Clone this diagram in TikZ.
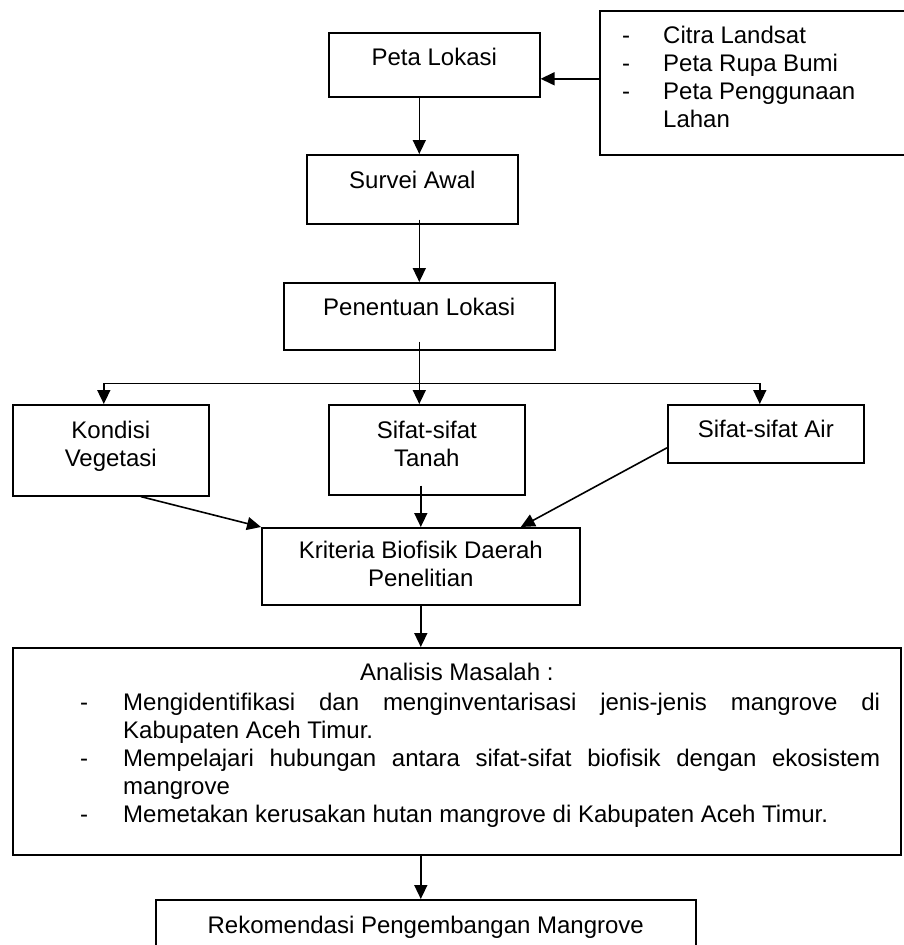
\documentclass[tikz,border=0pt]{standalone}
\usepackage{fontspec}
\setmainfont{Liberation Sans}
\usetikzlibrary{arrows.meta}

\begin{document}
\begin{tikzpicture}[x=1pt, y=-1pt, font=\fontsize{24}{28}\selectfont]
        \useasboundingbox (0,0) rectangle (903,945);

        \begin{scope}[every node/.style = {rectangle, draw, line width=1.6pt, inner sep=0pt, anchor=north west}]
            \node[minimum width=211pt, minimum height=64pt] (peta) at (328,32) {};
            \node[minimum width=320pt, minimum height=144pt] (src) at (599,10) {};

            \node[minimum width=211pt, minimum height=69pt] (survei) at (306,154) {};
            \node[minimum width=271pt, minimum height=67pt] (pen) at (283,282) {};

            \node[minimum width=196pt, minimum height=91pt] (kon) at (12,404) {};
            \node[minimum width=196pt, minimum height=90pt] (tanah) at (328,404) {};
            \node[minimum width=196pt, minimum height=58pt] (air) at (667,404) {};

            \node[minimum width=318pt, minimum height=77pt] (krit) at (261,527) {};
            \node[minimum width=888pt, minimum height=207pt] (ana) at (12,647) {};
            \node[minimum width=540pt, minimum height=70pt] (rek) at (155,899) {};
        \end{scope}

        % anchor=base sits on the last line of a two-line node
        \begin{scope}[every node/.style = {inner sep=0pt, anchor=base, align=center}]
            \node (peta-t) at ([yshift=-33pt]peta.north) {Peta Lokasi};
            \node[anchor=base west] (src-t) at ([xshift=23pt, yshift=-33pt]src.north west)
                {\begin{tabular}[t]{@{}p{41pt}@{}l@{}}
                    - & Citra Landsat\\
                    - & Peta Rupa Bumi\\
                    - & Peta Penggunaan\\
                      & Lahan
                 \end{tabular}};
            \node (survei-t) at ([yshift=-34pt]survei.north) {Survei Awal};
            \node (pen-t) at ([yshift=-33pt]pen.north) {Penentuan Lokasi};
            \node (kon-t) at ([yshift=-62pt]kon.north) {Kondisi\\Vegetasi};
            \node (tanah-t) at ([yshift=-62pt]tanah.north) {Sifat-sifat\\Tanah};
            \node (air-t) at ([yshift=-33pt]air.north) {Sifat-sifat Air};
            \node (krit-t) at ([yshift=-59pt]krit.north) {Kriteria Biofisik Daerah\\Penelitian};
            \node (ana-t) at ([yshift=-33pt]ana.north) {Analisis Masalah :};
            \node[anchor=base west] (ana-list) at ([xshift=68pt, yshift=-63pt]ana.north west)
                {\begin{tabular}[t]{@{}p{43pt}@{}p{757pt}@{}}
                    - & Mengidentifikasi dan menginventarisasi jenis-jenis mangrove di\linebreak Kabupaten Aceh Timur.\\
                    - & Mempelajari hubungan antara sifat-sifat biofisik dengan ekosistem\linebreak mangrove\\
                    - & Memetakan kerusakan hutan mangrove di Kabupaten Aceh Timur.
                 \end{tabular}};
            \node (rek-t) at ([yshift=-34pt]rek.north) {Rekomendasi Pengembangan Mangrove};
        \end{scope}

        \begin{scope}[>={Triangle[length=14pt, width=13pt]}, line width=1.6pt]
            \draw[->] ([yshift=4pt]src.west) -- ([yshift=4pt]src.west -| peta.east);
            \draw[->] (peta.south -| pen.north) -- (survei.north -| pen.north);
            \draw[->] (pen.north |- survei.south) ++(0,-5) -- (pen.north);

            % split to the three boxes
            \coordinate (fork) at ([yshift=-33pt]pen.south);
            \draw (pen.south) ++(0,-9) -- (fork);
            \draw[->] (fork) -| ([xshift=-7pt]kon.north);
            \draw[->] (fork) -- (fork |- tanah.north);
            \draw[->] (fork) -| ([xshift=-6pt]air.north);

            \draw[->] ([xshift=30pt]kon.south) -- (krit.north west);
            \draw[->] (tanah.south -| krit.north) ++(0,-10) -- (krit.north);
            \draw[->] ([yshift=-14pt]air.west) -- ([xshift=100pt]krit.north);

            \draw[->] (krit.south) -- (krit.south |- ana.north);
            \draw[->] (krit.south |- ana.south) -- (krit.south |- rek.north);
        \end{scope}
\end{tikzpicture}
\end{document}
